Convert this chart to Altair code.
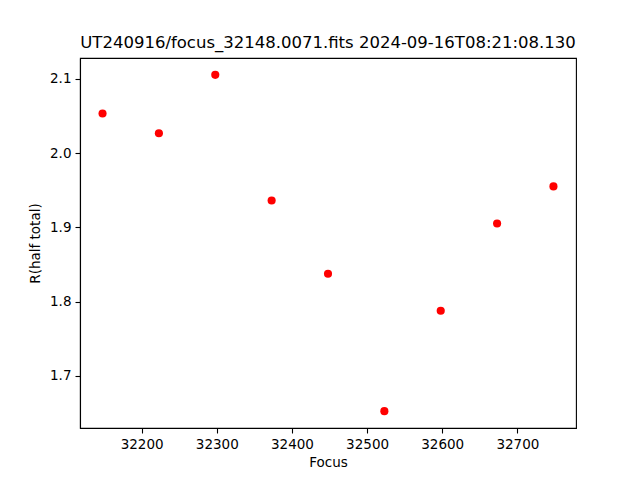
import altair as alt
import pandas as pd

focus = [32148, 32223, 32298, 32373, 32448, 32523, 32598, 32673, 32748]
r_half = [2.0534, 2.0268, 2.1055, 1.9363, 1.8376, 1.6525, 1.7877, 1.9052, 1.9552]
x_ticks = [32200, 32300, 32400, 32500, 32600, 32700]
y_ticks = [1.7, 1.8, 1.9, 2.0, 2.1]
title = "UT240916/focus_32148.0071.fits 2024-09-16T08:21:08.130"

df = pd.DataFrame({"Focus": focus, "R": r_half})

font = "DejaVu Sans"

chart = alt.Chart(df).mark_point(
    filled=True, color="#ff0000", opacity=1, size=66, shape="circle"
).encode(
    x=alt.X("Focus:Q",
            scale=alt.Scale(domain=[32118, 32778], nice=False, zero=False),
            axis=alt.Axis(values=x_ticks, format="d", title="Focus", grid=False,
                          titlePadding=5)),
    y=alt.Y("R:Q",
            scale=alt.Scale(domain=[1.62985, 2.12815], nice=False, zero=False),
            axis=alt.Axis(values=y_ticks, format=".1f", title="R(half total)", grid=False,
                          titlePadding=7)),
).properties(
    width=496, height=370,
    background="white",
    title=alt.TitleParams(title, fontSize=16.5, font=font, fontWeight="normal",
                          color="black", anchor="middle", offset=7),
    autosize=alt.AutoSizeParams(type="none"),
    padding={"left": 72, "top": 50, "right": 56, "bottom": 45},
).configure_view(
    stroke="black", strokeWidth=1.1
).configure_axis(
    domainColor="black", domainWidth=1.1, tickColor="black", tickWidth=1.1,
    tickSize=5, labelPadding=4, labelFont=font, labelFontSize=13.5,
    labelColor="black", titleFont=font, titleFontSize=13.5,
    titleFontWeight="normal", titleColor="black"
)

chart.save("out.html", embed_options={"renderer": "svg", "actions": False})
